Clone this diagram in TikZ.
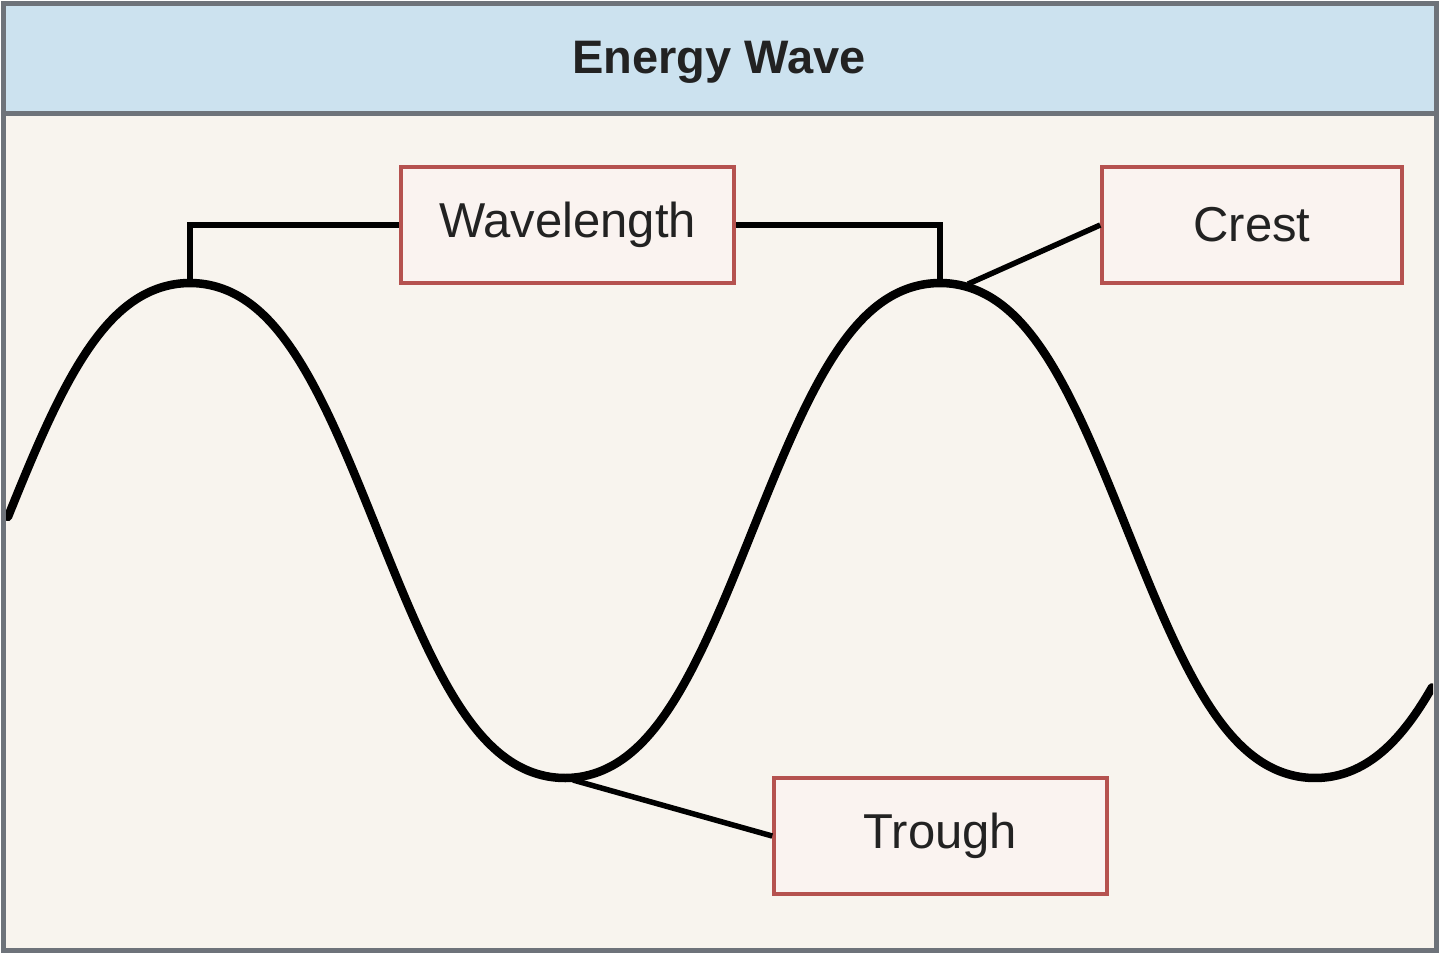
\documentclass[tikz,border=0pt]{standalone}
\usepackage{fontspec}
\setmainfont{Liberation Sans}
\begin{document}
\begin{tikzpicture}[x=1pt,y=-1pt,
  labelbox/.style={draw=boxred, fill=boxfill, line width=3.5pt, minimum width=333pt, minimum height=116pt,
    inner sep=0pt, text=txt, font=\fontsize{49}{56}\selectfont},
  conn/.style={line width=6pt, draw=black},
  wave/.style={line width=8.5pt, draw=black}]
\definecolor{frame}{HTML}{6E737A}
\definecolor{head}{HTML}{CCE2EF}
\definecolor{body}{HTML}{F8F4EE}
\definecolor{boxred}{HTML}{B5524F}
\definecolor{boxfill}{HTML}{FAF3F0}
\definecolor{txt}{HTML}{222222}
\useasboundingbox (0,0) rectangle (1440,956);
\fill[white] (0,0) rectangle (1440,956);
% body and header
\fill[body] (3,3) rectangle (1436,950);
\fill[head] (3,3) rectangle (1436,113);
\draw[frame, line width=5pt] (3,113) -- (1436,113);
\node[font=\bfseries\fontsize{47}{54}\selectfont, text=txt, anchor=base] (title) at (719,73) {Energy Wave};
% wave
\begin{scope}
\clip (6,116) rectangle (1433,947);
\draw[wave, line cap=round] plot[smooth, samples=300, domain=8:1432]
  (\x, {530.5-247.5*(1.05*cos(0.48*(\x-190))-0.05*cos(1.44*(\x-190)))});
\end{scope}
\coordinate (crest1) at (190,283);
\coordinate (crest2) at (940,283);
\coordinate (crestpt) at (968,284);
\coordinate (troughpt) at (573,780);
% boxes
\node[labelbox] (wl) at (567.5,225) {Wavelength};
\node[labelbox, minimum width=300pt] (crest) at (1252,225) {Crest};
\node[labelbox] (trough) at (940.5,836) {Trough};
% connectors
\draw[conn] (crest1) |- (wl.west);
\draw[conn] (crest2) |- (wl.east);
\draw[conn, line width=5.5pt] (crestpt) -- (crest.west);
\draw[conn, line width=5.5pt] (troughpt) -- (trough.west);
% frame
\draw[frame, line width=5pt] (3,3) rectangle (1436,950);
\end{tikzpicture}
\end{document}
